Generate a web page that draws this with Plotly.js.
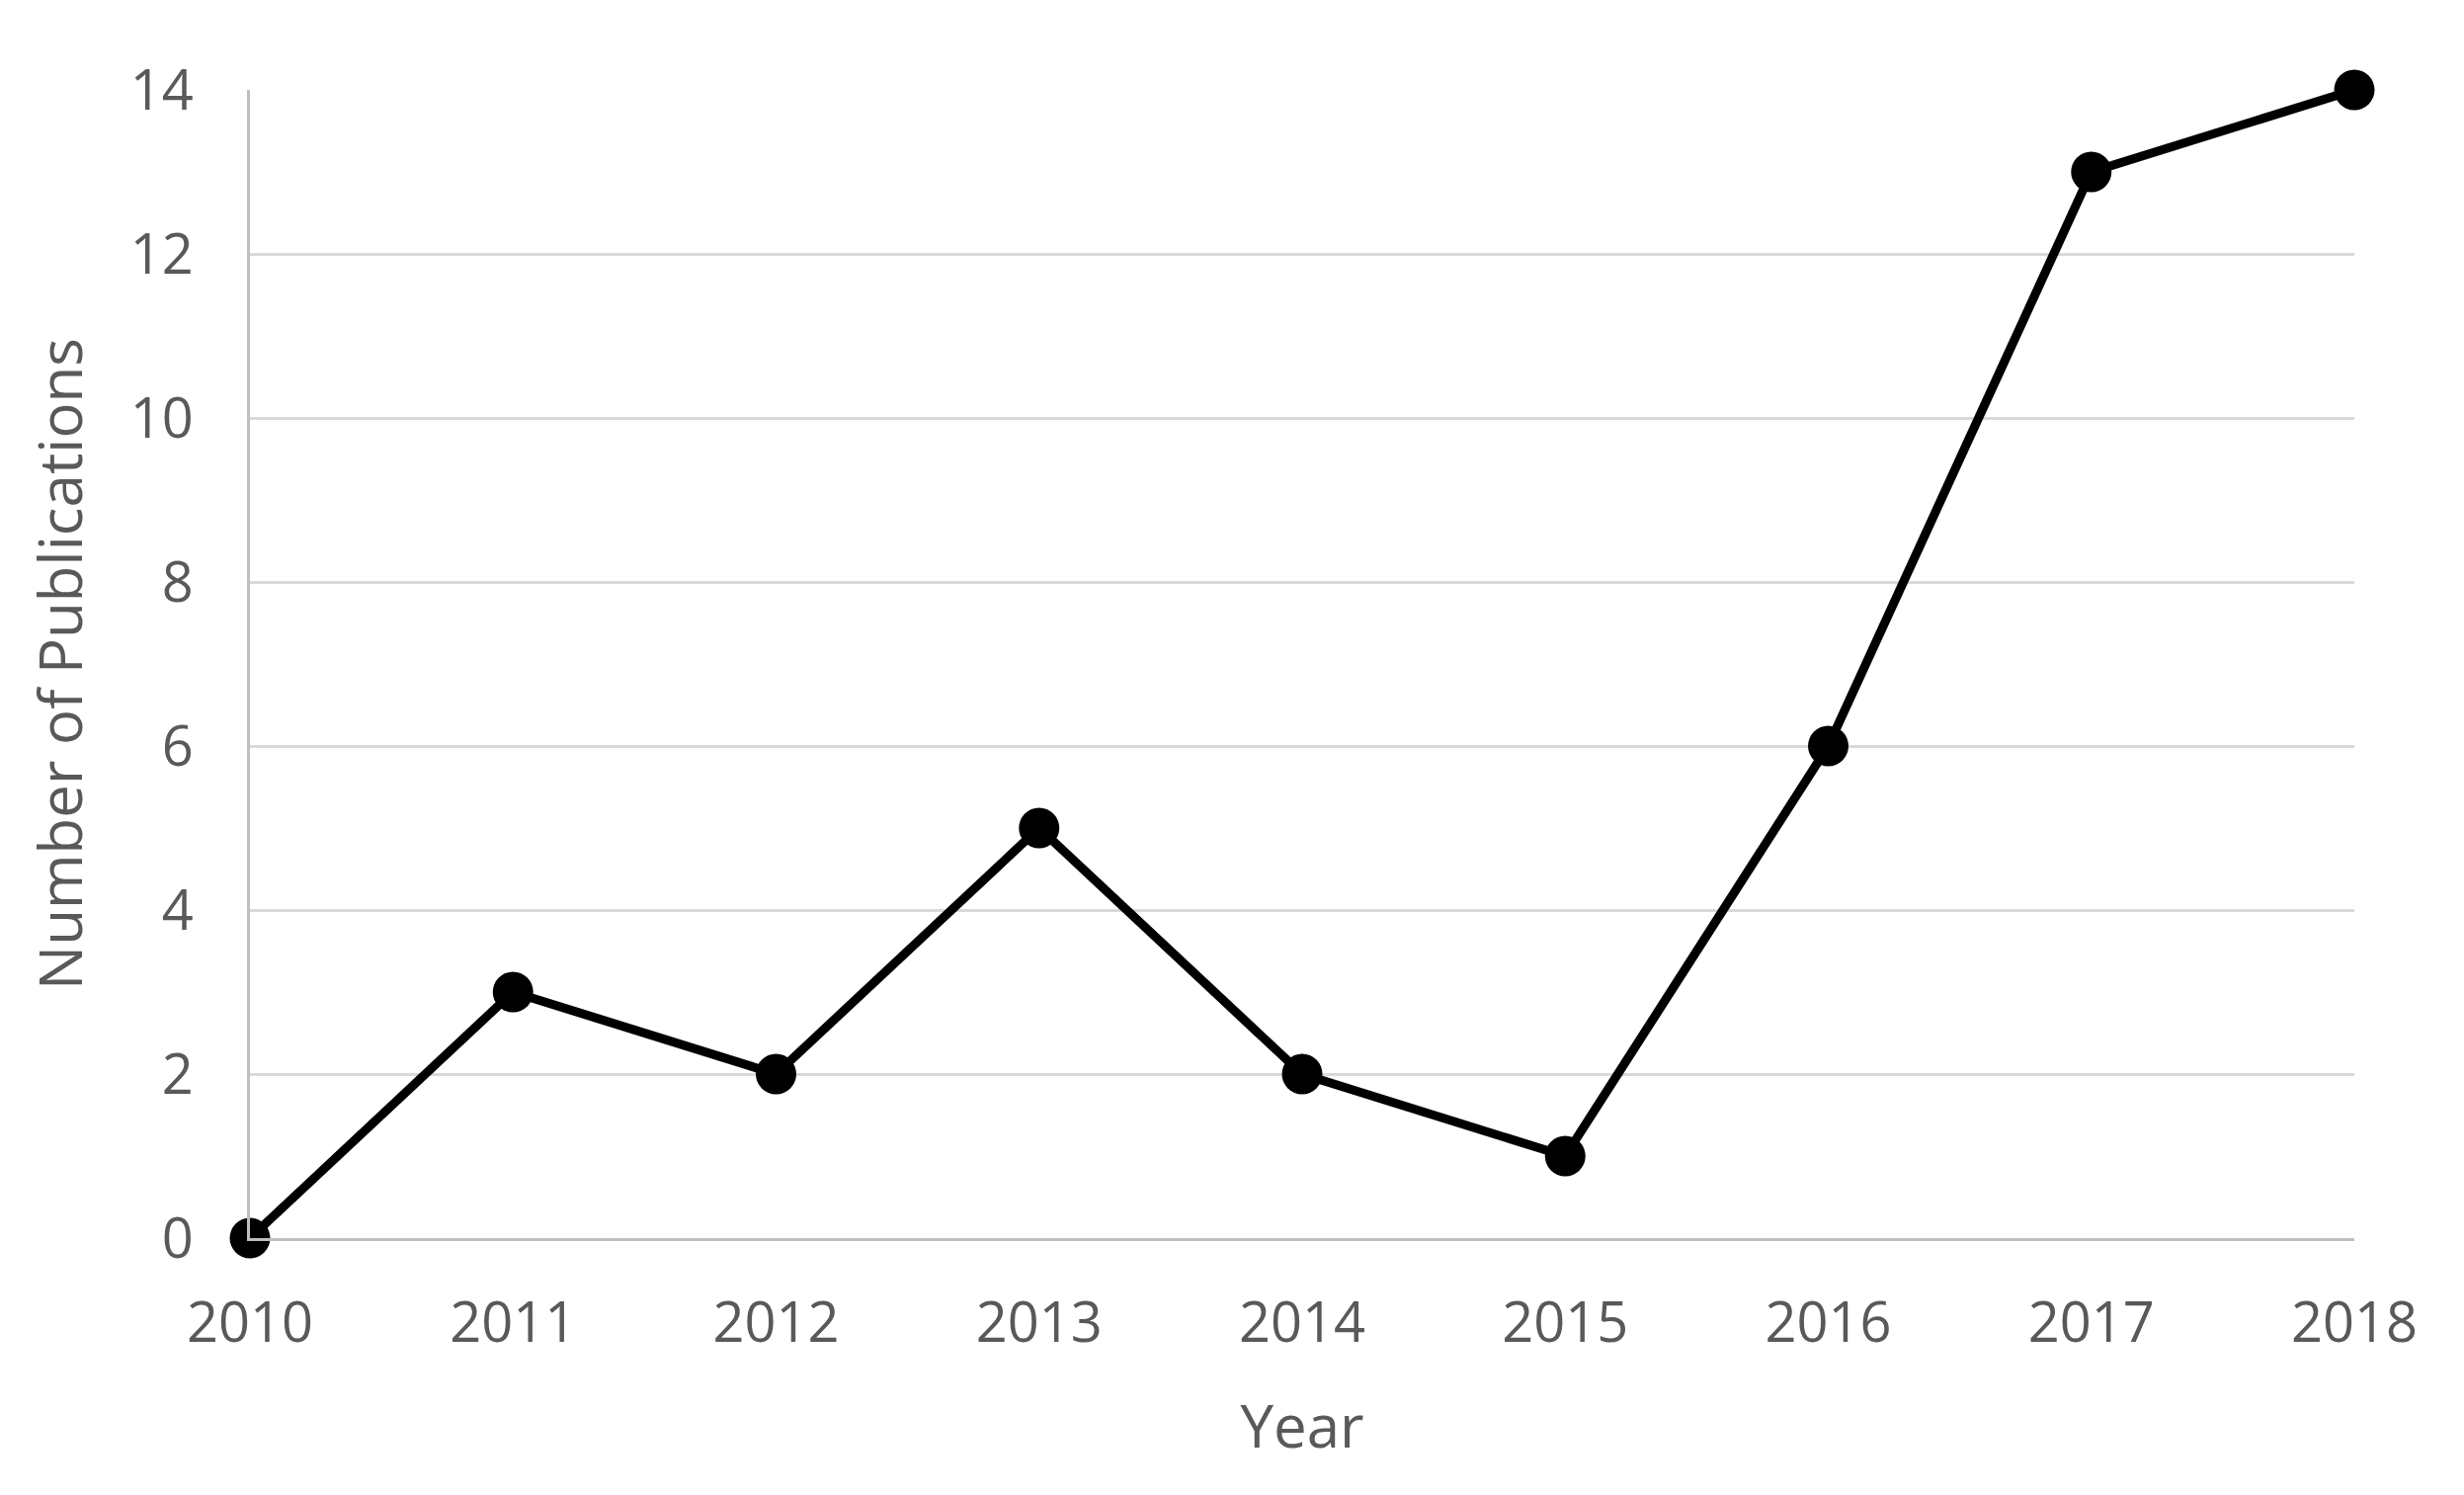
<!DOCTYPE html>
<html>
<head>
<meta charset="utf-8">
<script src="https://cdn.plot.ly/plotly-3.0.1.min.js"></script>
<style>html,body{margin:0;padding:0;background:#fff;}#chart{width:2494px;height:1513px;}</style>
</head>
<body>
<div id="chart"></div>
<script>
var years = [2010, 2011, 2012, 2013, 2014, 2015, 2016, 2017, 2018];
var publications = [0, 3, 2, 5, 2, 1, 6, 13, 14];
var yTicks = [0, 2, 4, 6, 8, 10, 12, 14];
var xTitle = "Year";
var yTitle = "Number of Publications";

var trace = {
  x: years,
  y: publications,
  type: "scatter",
  mode: "lines+markers",
  line: {color: "#000000", width: 9},
  marker: {color: "#000000", size: 41},
  cliponaxis: false,
  hoverinfo: "skip"
};

var font = "'Open Sans', 'Liberation Sans', sans-serif";
var layout = {
  width: 2494,
  height: 1513,
  margin: {l: 253, r: 111, t: 91, b: 260, pad: 0},
  paper_bgcolor: "#ffffff",
  plot_bgcolor: "#ffffff",
  showlegend: false,
  xaxis: {
    range: [2010, 2018],
    tickvals: years,
    ticktext: years.map(String),
    showgrid: false,
    zeroline: false,
    showline: true,
    linecolor: "#bfbfbf",
    linewidth: 3,
    ticks: "",
    ticklabelstandoff: 35,
    tickfont: {family: font, size: 56, color: "#595959"},
    title: {text: xTitle, font: {family: font, size: 60, color: "#595959"}, standoff: 50}
  },
  yaxis: {
    range: [0, 14],
    tickvals: yTicks,
    showgrid: true,
    gridcolor: "#d9d9d9",
    gridwidth: 3,
    zeroline: false,
    showline: true,
    linecolor: "#bfbfbf",
    linewidth: 3,
    ticks: "",
    ticklabelstandoff: 43,
    tickfont: {family: font, size: 56, color: "#595959"},
    title: {text: yTitle, font: {family: font, size: 60, color: "#595959"}, standoff: 29}
  }
};

Plotly.newPlot("chart", [trace], layout, {staticPlot: true, displayModeBar: false});
</script>
</body>
</html>
